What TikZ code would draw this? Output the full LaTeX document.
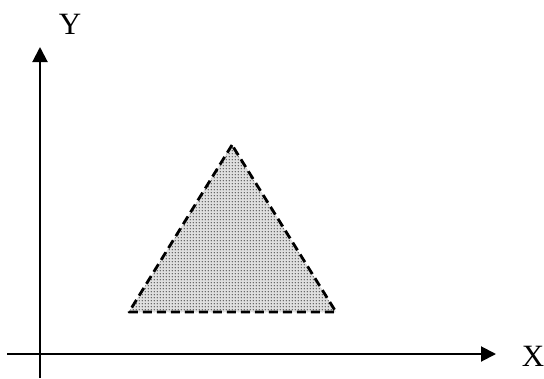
\documentclass[tikz,border=0pt]{standalone}
\usepackage{fontspec}
\setmainfont{Liberation Serif}
\usetikzlibrary{arrows.meta,patterns.meta}
\pgfdeclarepattern{
  name=bigdots,
  parameters={},
  bottom left={\pgfpoint{0pt}{0pt}},
  top right={\pgfpoint{2.7pt}{2.7pt}},
  tile size={\pgfpoint{2.7pt}{2.7pt}},
  tile transformation={},
  code={\pgfpathcircle{\pgfpoint{1.35pt}{1.35pt}}{0.7pt}\pgfusepath{fill}}
}
\begin{document}
\begin{tikzpicture}[x=1pt,y=-1pt,
  axis/.style={line width=2pt,-{Triangle[length=15pt,width=15pt]}},
  lbl/.style={font=\fontsize{31}{31}\selectfont,inner sep=0pt},
  tri/.style={line width=2.8pt,dash pattern=on 9pt off 5pt,line join=round}]
\useasboundingbox (0,0) rectangle (544,378);
\coordinate (yo) at (40,378);
\coordinate (yt) at (40,47);
\coordinate (xo) at (7,354);
\coordinate (xt) at (496,354);
\draw[axis] (yo) -- (yt);
\draw[axis] (xo) -- (xt);
\node[lbl] (ylab) at (70,24) {Y};
\node[lbl] (xlab) at (533,356) {X};
\coordinate (a) at (232,145);
\coordinate (b) at (129,312);
\coordinate (c) at (336,312);
\fill[gray!25] (a) -- (b) -- (c) -- cycle;
\fill[pattern=bigdots,pattern color=black!75] (a) -- (b) -- (c) -- cycle;
\draw[tri] (a) -- (b) -- (c) -- cycle;
\end{tikzpicture}
\end{document}
